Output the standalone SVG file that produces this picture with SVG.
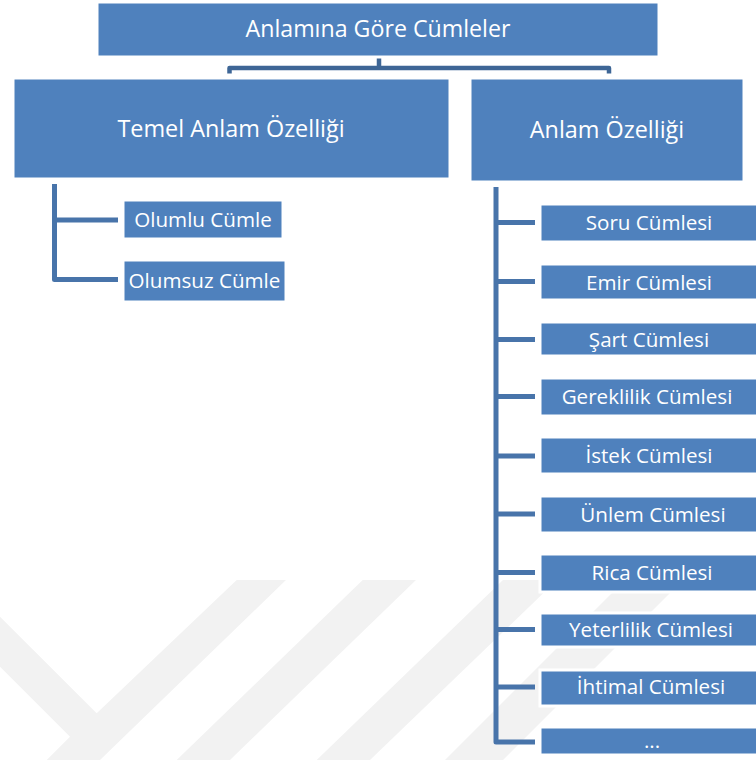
<svg xmlns="http://www.w3.org/2000/svg" width="756" height="760" viewBox="0 0 756 760">
  <defs>
    <style>
      .box { fill: #4f81bd; stroke: #ffffff; stroke-width: 3; }
      .lbl { fill: #ffffff; font-family: "Open Sans", "Noto Sans", "DejaVu Sans", sans-serif; text-anchor: middle; }
      .l1 { font-size: 23.2px; }
      .l2 { font-size: 23.4px; }
      .l3 { font-size: 20.6px; }
      .wire { fill: none; stroke: #4874aa; stroke-width: 5; stroke-linejoin: round; }
      .bracket { fill: none; stroke: #3e6696; stroke-width: 4.5; stroke-linejoin: round; }
      .mark { fill: #f2f2f2; }
    </style>
  </defs>

  <rect width="756" height="760" fill="#ffffff"/>

  <!-- faint background emblem -->
  <g id="emblem">
    <polygon class="mark" points="0,616.7 96.7,713.3 236.7,580 286,580 100,760 46.7,760 70,736.7 0,666.7"/>
    <polygon class="mark" points="362.7,580 416,580 230,760 176.7,760"/>
    <polygon class="mark" points="503,580 557,580 370,760 316.7,760"/>
    <polygon class="mark" points="625,580 683,580 503,760 445,760"/>
  </g>

  <!-- connectors -->
  <g id="connectors">
    <path class="bracket" d="M379,57 V68 M229.5,73.5 V68 H609 V73.5"/>
    <path class="wire" d="M54.5,184 V279.5 H118 M54.5,220 H118"/>
    <path class="wire" d="M496,187 V742 H535"/>
    <path class="wire" d="M496,222.5 H535 M496,281.5 H535 M496,339.5 H535 M496,396.5 H535 M496,456 H535 M496,514 H535 M496,572.5 H535 M496,629.5 H535 M496,687 H535"/>
  </g>

  <g id="root">
    <rect class="box" x="97" y="2" width="562" height="55"/>
    <text class="lbl l1" x="378" y="37">Anlamına Göre Cümleler</text>
  </g>

  <g id="temel">
    <rect class="box" x="13" y="78" width="437" height="101"/>
    <text class="lbl l2" x="231" y="137">Temel Anlam Özelliği</text>
  </g>

  <g id="anlam">
    <rect class="box" x="470" y="78" width="274" height="104"/>
    <text class="lbl l2" x="607" y="137.5">Anlam Özelliği</text>
  </g>

  <g id="olumlu">
    <rect class="box" x="123" y="200" width="160" height="39"/>
    <text class="lbl l3" x="203" y="227">Olumlu Cümle</text>
  </g>

  <g id="olumsuz">
    <rect class="box" x="123" y="260" width="163" height="42"/>
    <text class="lbl l3" x="204.5" y="287.5">Olumsuz Cümle</text>
  </g>

  <g id="soru">
    <rect class="box" x="540" y="204" width="218" height="38"/>
    <text class="lbl l3" x="649" y="230">Soru Cümlesi</text>
  </g>

  <g id="emir">
    <rect class="box" x="540" y="264" width="218" height="36"/>
    <text class="lbl l3" x="649" y="289.5">Emir Cümlesi</text>
  </g>

  <g id="sart">
    <rect class="box" x="540" y="322" width="218" height="34"/>
    <text class="lbl l3" x="649" y="346.5">Şart Cümlesi</text>
  </g>

  <g id="gereklilik">
    <rect class="box" x="540" y="378" width="218" height="38"/>
    <text class="lbl l3" x="647" y="403.5">Gereklilik Cümlesi</text>
  </g>

  <g id="istek">
    <rect class="box" x="540" y="437" width="218" height="37"/>
    <text class="lbl l3" x="649" y="462.5">İstek Cümlesi</text>
  </g>

  <g id="unlem">
    <rect class="box" x="540" y="496" width="218" height="37"/>
    <text class="lbl l3" x="653" y="521.5">Ünlem Cümlesi</text>
  </g>

  <g id="rica">
    <rect class="box" x="540" y="554" width="218" height="38"/>
    <text class="lbl l3" x="652" y="580">Rica Cümlesi</text>
  </g>

  <g id="yeterlilik">
    <rect class="box" x="540" y="613" width="218" height="34"/>
    <text class="lbl l3" x="651" y="636.5">Yeterlilik Cümlesi</text>
  </g>

  <g id="ihtimal">
    <rect class="box" x="540" y="670" width="218" height="36"/>
    <text class="lbl l3" x="651" y="693.5">İhtimal Cümlesi</text>
  </g>

  <g id="diger">
    <rect class="box" x="540" y="727" width="218" height="28"/>
    <text class="lbl l3" x="652" y="748">...</text>
  </g>
</svg>
